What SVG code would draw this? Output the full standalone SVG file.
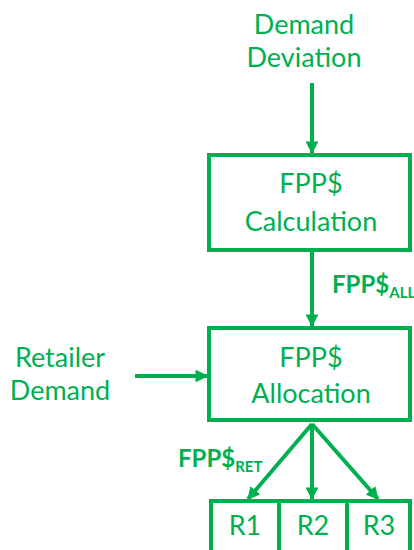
<svg xmlns="http://www.w3.org/2000/svg" width="414" height="550" viewBox="0 0 414 550">
  <style>
    .box { fill: #ffffff; stroke: #00b050; stroke-width: 4; }
    .link { stroke: #00b050; stroke-width: 4; fill: none; }
    .t { fill: #00b050; font-family: Lato, "Liberation Sans", sans-serif; font-size: 27px; text-anchor: middle; }
    .b { fill: #00b050; font-family: Lato, "Liberation Sans", sans-serif; font-weight: bold; font-size: 24px; }
    .sub { font-size: 15px; }
  </style>
  <defs>
    <marker id="arrow" viewBox="0 0 10 10" refX="9" refY="5" markerWidth="3.2" markerHeight="3.2" orient="auto" markerUnits="strokeWidth">
      <path d="M0,0 L10,5 L0,10 Z" fill="#00b050"/>
    </marker>
  </defs>

  <rect width="414" height="550" fill="#ffffff"/>

  <!-- inputs -->
  <g id="demand-deviation">
    <text class="t" x="304" y="34">Demand</text>
    <text class="t" x="304" y="67">Deviation</text>
  </g>
  <g id="retailer-demand">
    <text class="t" x="60" y="367">Retailer</text>
    <text class="t" x="60" y="400">Demand</text>
  </g>

  <!-- process boxes -->
  <g id="calculation">
    <rect class="box" x="209" y="155" width="201" height="95"/>
    <text class="t" x="311" y="193">FPP$</text>
    <text class="t" x="311" y="231">Calculation</text>
  </g>
  <g id="allocation">
    <rect class="box" x="209" y="328" width="201" height="92"/>
    <text class="t" x="311" y="367">FPP$</text>
    <text class="t" x="311" y="403">Allocation</text>
  </g>

  <!-- retailers -->
  <g id="r1">
    <rect class="box" x="211" y="501" width="68" height="52"/>
    <text class="t" x="245" y="535">R1</text>
  </g>
  <g id="r2">
    <rect class="box" x="279" y="501" width="68" height="52"/>
    <text class="t" x="313" y="535">R2</text>
  </g>
  <g id="r3">
    <rect class="box" x="347" y="501" width="63" height="52"/>
    <text class="t" x="379" y="535">R3</text>
  </g>

  <!-- connectors -->
  <g id="connectors">
    <line class="link" x1="312" y1="83" x2="312" y2="153" marker-end="url(#arrow)"/>
    <line class="link" x1="312" y1="252" x2="312" y2="326" marker-end="url(#arrow)"/>
    <line class="link" x1="135" y1="376" x2="207" y2="376" marker-end="url(#arrow)"/>
    <line class="link" x1="312" y1="424" x2="248" y2="499" marker-end="url(#arrow)"/>
    <line class="link" x1="312" y1="424" x2="312" y2="499" marker-end="url(#arrow)"/>
    <line class="link" x1="312" y1="424" x2="378" y2="499" marker-end="url(#arrow)"/>
  </g>

  <!-- flow labels -->
  <g id="label-all">
    <text class="b" x="332" y="293">FPP$<tspan class="sub" dy="5">ALL</tspan></text>
  </g>
  <g id="label-ret">
    <text class="b" x="178" y="467">FPP$<tspan class="sub" dy="5">RET</tspan></text>
  </g>
</svg>
